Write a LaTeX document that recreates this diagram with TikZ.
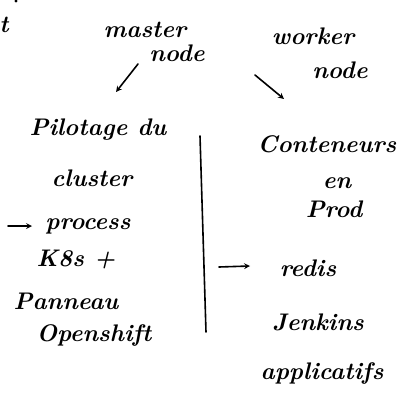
\documentclass[tikz,border=0pt]{standalone}
\usepackage{tikz}
\usetikzlibrary{arrows}
\tikzstyle{arrow} = [line width=1.6pt,->,>=stealth,line cap=round]
\tikzstyle{note} = [font=\fontsize{24}{28}\selectfont\bfseries\itshape, inner sep=0pt]

\begin{document}
\begin{tikzpicture}[x=1pt, y=-1pt, every node/.style={note}]
      \useasboundingbox (0,0) rectangle (405,404);
      % Nodes
      \node (cut) at (4,25) {t};
      \fill (16,1) circle (1.6pt);
      \node (master) at (145,30) {master};
      \node (mnode) at (177,53) {node};
      \node (worker) at (313,36) {worker};
      \node (wnode) at (340,70) {node};

      \node (pilot) at (98,130) {Pilotage du};
      \node (cluster) at (92,178) {cluster};
      \node (process) at (88,226) {process};
      \node (k8s) at (76,259) {K8s +};
      \node (panneau) at (66,301) {Panneau};
      \node (openshift) at (94,335) {Openshift};

      \node (conteneurs) at (327,144) {Conteneurs};
      \node (en) at (337,183) {en};
      \node (prod) at (334,209) {Prod};
      \node (redis) at (308,268) {redis};
      \node (jenkins) at (318,322) {Jenkins};
      \node (applicatifs) at (322,373) {applicatifs};

      \coordinate (m1) at (138,64);
      \coordinate (m2) at (116,92);
      \coordinate (w1) at (255,75);
      \coordinate (w2) at (284,99);
      \coordinate (p1) at (8,226);
      \coordinate (p2) at (32,226);
      \coordinate (r1) at (219,267);
      \coordinate (r2) at (250,266);
      \coordinate (sepTop) at (200,136);
      \coordinate (sepBot) at (206,332);

      % Edges
      \draw[arrow] (m1) -- (m2);
      \draw[arrow] (w1) -- (w2);
      \draw[arrow] (p1) -- (p2);
      \draw[arrow] (r1) -- (r2);
      \draw[line width=1.6pt, line cap=round] (sepTop) -- (sepBot);
  \end{tikzpicture}
\end{document}
